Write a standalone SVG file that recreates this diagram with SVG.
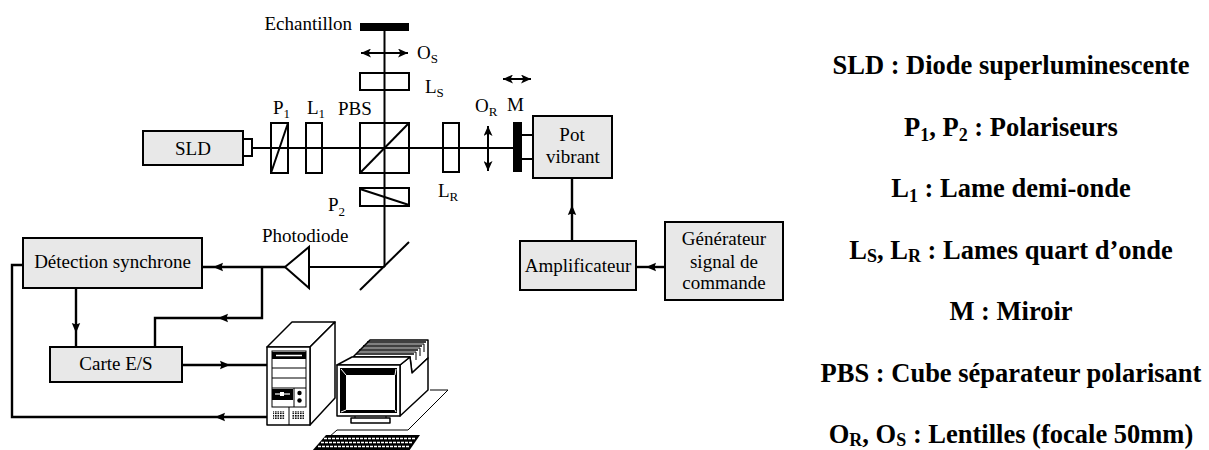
<svg xmlns="http://www.w3.org/2000/svg" width="1209" height="450" viewBox="0 0 1209 450">
  <defs>
    <style>
      .t { font-family: "Liberation Serif", Tinos, "Times New Roman", Times, "DejaVu Serif", "Noto Serif", serif; font-size: 19px; fill: #000; }
      .sub { font-size: 13px; }
      .mid { text-anchor: middle; }
      .leg { font-family: "Liberation Serif", Tinos, "Times New Roman", Times, "DejaVu Serif", "Noto Serif", serif; font-weight: bold; font-size: 26.5px; text-anchor: middle; fill: #000; }
      .ls { font-size: 18px; }
      .box { fill: #e8e8e8; stroke: #000; stroke-width: 2; }
      .opt { fill: none; stroke: #000; stroke-width: 2; }
      .ln { fill: none; stroke: #000; stroke-width: 2; }
      .cn { fill: none; stroke: #000; stroke-width: 2.4; }
      .pc { fill: #fff; stroke: #000; stroke-width: 1.5; stroke-linejoin: round; }
      .thin { fill: none; stroke: #000; stroke-width: 1; }
    </style>
    <!-- filled head for the signal connectors, tip at origin, pointing +x -->
    <path id="ah" d="M0,0 L-10,-4.2 L-8.5,0 L-10,4.2 Z" fill="#000"/>
    <!-- barbed head for the displacement arrows -->
    <marker id="dbl" viewBox="0 0 10 9" refX="10" refY="4.5" markerWidth="10" markerHeight="9" markerUnits="userSpaceOnUse" orient="auto-start-reverse">
      <path d="M0,0 L10,4.5 L0,9 L2.5,4.5 Z" fill="#000"/>
    </marker>
    <pattern id="grille" width="2.5" height="2.5" patternUnits="userSpaceOnUse">
      <rect width="2.5" height="2.5" fill="#fff"/>
      <rect width="1.6" height="1.6" fill="#000"/>
    </pattern>
  </defs>

  <rect width="1209" height="450" fill="#fff"/>

  <!-- optical beams -->
  <g id="beams">
    <line class="ln" x1="252" y1="148" x2="513" y2="148"/>
    <line class="ln" x1="384.5" y1="27" x2="384.5" y2="267"/>
    <line class="ln" x1="384.5" y1="267" x2="309" y2="267"/>
  </g>

  <!-- optical components -->
  <g id="echantillon">
    <rect x="360" y="23" width="49" height="8" fill="#000"/>
    <text class="t" x="352" y="30" text-anchor="end">Echantillon</text>
  </g>
  <g id="os">
    <line class="ln" x1="361" y1="53" x2="408" y2="53" marker-start="url(#dbl)" marker-end="url(#dbl)"/>
    <text class="t" x="417" y="59">O<tspan class="sub" dy="4">S</tspan></text>
  </g>
  <g id="ls">
    <rect class="opt" x="360" y="73" width="49" height="17"/>
    <text class="t" x="425" y="93">L<tspan class="sub" dy="4">S</tspan></text>
  </g>
  <g id="sld">
    <rect class="box" x="143" y="131" width="100" height="34"/>
    <rect class="box" x="243" y="139" width="9" height="17" style="fill:#fff"/>
    <text class="t mid" x="193" y="155">SLD</text>
  </g>
  <g id="p1">
    <rect class="opt" x="271" y="123" width="17" height="50"/>
    <line class="ln" x1="271" y1="173" x2="288" y2="123"/>
    <text class="t" x="273" y="114">P<tspan class="sub" dy="4">1</tspan></text>
  </g>
  <g id="l1">
    <rect class="opt" x="306" y="123" width="16" height="50"/>
    <text class="t" x="307" y="114">L<tspan class="sub" dy="4">1</tspan></text>
  </g>
  <g id="pbs">
    <rect class="opt" x="360" y="123" width="49" height="50"/>
    <line class="ln" x1="360" y1="173" x2="409" y2="123"/>
    <text class="t" x="338" y="115">PBS</text>
  </g>
  <g id="p2">
    <rect class="opt" x="360" y="188" width="49" height="18"/>
    <line class="ln" x1="360" y1="189" x2="409" y2="205"/>
    <text class="t" x="328" y="211">P<tspan class="sub" dy="5">2</tspan></text>
  </g>
  <g id="lr">
    <rect class="opt" x="443" y="123" width="16" height="49"/>
    <text class="t" x="438" y="197">L<tspan class="sub" dy="4">R</tspan></text>
  </g>
  <g id="or">
    <line class="ln" x1="488" y1="126" x2="488" y2="171" marker-start="url(#dbl)" marker-end="url(#dbl)"/>
    <text class="t" x="475" y="112">O<tspan class="sub" dy="4">R</tspan></text>
  </g>
  <g id="miroir">
    <rect x="513" y="122" width="9" height="50" fill="#000"/>
    <line class="ln" x1="522" y1="135" x2="533" y2="135"/>
    <line class="ln" x1="522" y1="159" x2="533" y2="159"/>
    <line class="ln" x1="503" y1="79" x2="531" y2="79" marker-start="url(#dbl)" marker-end="url(#dbl)"/>
    <text class="t" x="507" y="111">M</text>
  </g>
  <g id="pot-vibrant">
    <rect class="box" x="533" y="116" width="79" height="62"/>
    <text class="t mid" x="572" y="141">Pot</text>
    <text class="t mid" x="573" y="163">vibrant</text>
  </g>
  <g id="miroir-renvoi">
    <line class="ln" x1="360" y1="290" x2="409" y2="242"/>
  </g>
  <g id="photodiode">
    <polygon class="opt" points="285,267 309,247 309,288" style="fill:#fff"/>
    <text class="t" x="262" y="242">Photodiode</text>
  </g>

  <!-- electronics -->
  <g id="amplificateur">
    <rect class="box" x="520" y="241" width="116" height="49"/>
    <text class="t mid" x="578" y="272">Amplificateur</text>
  </g>
  <g id="generateur">
    <rect class="box" x="665" y="222" width="118" height="78"/>
    <text class="t mid" x="724" y="245">Générateur</text>
    <text class="t mid" x="724" y="268">signal de</text>
    <text class="t mid" x="724" y="289">commande</text>
  </g>
  <g id="detection">
    <rect class="box" x="23" y="238" width="179" height="50"/>
    <text class="t mid" x="112.5" y="268">Détection synchrone</text>
  </g>
  <g id="carte">
    <rect class="box" x="50" y="347" width="132" height="35"/>
    <text class="t mid" x="116" y="370">Carte E/S</text>
  </g>

  <!-- signal connectors -->
  <g id="connectors">
    <path class="cn" d="M572 241 L572 178"/>
    <use href="#ah" transform="translate(572,205) rotate(-90)"/>
    <path class="cn" d="M665 267 L636 267"/>
    <use href="#ah" transform="translate(646,267) rotate(180)"/>
    <path class="cn" d="M285 267 L202 267"/>
    <use href="#ah" transform="translate(213,267) rotate(180)"/>
    <path class="cn" d="M262 267 L262 318 L155 318 L155 347"/>
    <use href="#ah" transform="translate(218,318) rotate(180)"/>
    <path class="cn" d="M76 288 L76 347"/>
    <use href="#ah" transform="translate(76,333) rotate(90)"/>
    <path class="cn" d="M182 365 L267 365"/>
    <use href="#ah" transform="translate(230,365)"/>
    <path class="cn" d="M267 417 L12 417 L12 265 L23 265"/>
    <use href="#ah" transform="translate(215,417) rotate(180)"/>
  </g>

  <!-- computer -->
  <g id="ordinateur">
    <!-- desk surface -->
    <polyline class="thin" points="430,390 448,390 408,430 337,430 320,445" stroke-width="1.3"/>
    <!-- tower -->
    <polygon class="pc" points="267,347 292,322 335,322 310,347"/>
    <polygon class="pc" points="310,347 335,322 335,398 310,425"/>
    <rect class="pc" x="267" y="347" width="43" height="78"/>
    <rect class="thin" x="272" y="351" width="34" height="56"/>
    <rect x="272" y="352" width="34" height="7" fill="#000"/>
    <line x1="276" y1="355.5" x2="302" y2="355.5" stroke="#fff" stroke-width="1.5"/>
    <line class="thin" x1="272" y1="368" x2="306" y2="368"/>
    <line class="thin" x1="272" y1="378" x2="306" y2="378"/>
    <line class="thin" x1="272" y1="388" x2="306" y2="388"/>
    <rect x="272" y="389" width="21" height="11" fill="#000"/>
    <line x1="275" y1="394" x2="290" y2="394" stroke="#fff" stroke-width="1.2"/>
    <rect x="280" y="392" width="4" height="4" fill="#fff"/>
    <line class="thin" x1="294" y1="388" x2="294" y2="407"/>
    <circle cx="299.5" cy="393" r="2.2" fill="#000"/>
    <circle cx="299.5" cy="400.5" r="2.2" fill="#000"/>
    <line class="thin" x1="289" y1="407" x2="289" y2="425"/>
    <rect x="273" y="411" width="12" height="8" fill="url(#grille)"/>
    <rect x="292" y="411" width="12" height="8" fill="url(#grille)"/>
    <!-- file box behind the monitor -->
    <polygon class="pc" points="353,357 370,340 428,340 428,358 412,373 410,357"/>
    <polyline class="thin" points="366,344 424,344 424,352"/>
    <polyline class="thin" points="362,348 420,348 420,356"/>
    <polyline class="thin" points="358,352 416,352 416,360"/>
    <line x1="367" y1="342" x2="426" y2="342" stroke="#000" stroke-width="1.5"/>
    <line x1="363" y1="346" x2="422" y2="346" stroke="#000" stroke-width="1.5"/>
    <line x1="359" y1="350" x2="418" y2="350" stroke="#000" stroke-width="1.5"/>
    <line x1="356" y1="354" x2="414" y2="354" stroke="#000" stroke-width="1.5"/>
    <polygon class="pc" points="400,365 410,357 412,373 428,358 428,390 400,416"/>
    <!-- monitor -->
    <polygon class="pc" points="337,365 352,357 410,357 400,365"/>
    <rect class="pc" x="337" y="365" width="63" height="51"/>
    <rect x="340" y="368" width="57" height="45" fill="#000"/>
    <rect x="346" y="375" width="49" height="35" fill="#fff"/>
    <line x1="341" y1="369" x2="346" y2="375" stroke="#fff" stroke-width="1"/>
    <line x1="396" y1="369" x2="395" y2="375" stroke="#fff" stroke-width="1"/>
    <line x1="341" y1="412" x2="346" y2="410" stroke="#fff" stroke-width="1"/>
    <line x1="396" y1="412" x2="395" y2="410" stroke="#fff" stroke-width="1"/>
    <rect class="pc" x="351" y="418" width="39" height="5"/>
    <line class="thin" x1="355" y1="416" x2="355" y2="418"/>
    <line class="thin" x1="386" y1="416" x2="386" y2="418"/>
    <!-- keyboard -->
    <polygon points="326,435 420,435 409,451 312,451" fill="#000"/>
    <line x1="324" y1="438.5" x2="416" y2="438.5" stroke="#fff" stroke-width="1.3" stroke-dasharray="3 1"/>
    <line x1="321" y1="442.5" x2="413" y2="442.5" stroke="#fff" stroke-width="1.3" stroke-dasharray="3 1"/>
    <line x1="318" y1="446.5" x2="410" y2="446.5" stroke="#fff" stroke-width="1.3" stroke-dasharray="3 1"/>
  </g>

  <!-- legend -->
  <g id="legende">
    <text class="leg" x="1011" y="74">SLD : Diode superluminescente</text>
    <text class="leg" x="1011" y="136">P<tspan class="ls" dy="5">1</tspan><tspan dy="-5">, P</tspan><tspan class="ls" dy="5">2</tspan><tspan dy="-5"> : Polariseurs</tspan></text>
    <text class="leg" x="1011" y="197">L<tspan class="ls" dy="5">1</tspan><tspan dy="-5"> : Lame demi-onde</tspan></text>
    <text class="leg" x="1011" y="259">L<tspan class="ls" dy="3">S</tspan><tspan dy="-3">, L</tspan><tspan class="ls" dy="3">R</tspan><tspan dy="-3"> : Lames quart d’onde</tspan></text>
    <text class="leg" x="1011" y="320">M : Miroir</text>
    <text class="leg" x="1011" y="382">PBS : Cube séparateur polarisant</text>
    <text class="leg" x="1011" y="443">O<tspan class="ls" dy="3">R</tspan><tspan dy="-3">, O</tspan><tspan class="ls" dy="3">S</tspan><tspan dy="-3"> : Lentilles (focale 50mm)</tspan></text>
  </g>
</svg>
